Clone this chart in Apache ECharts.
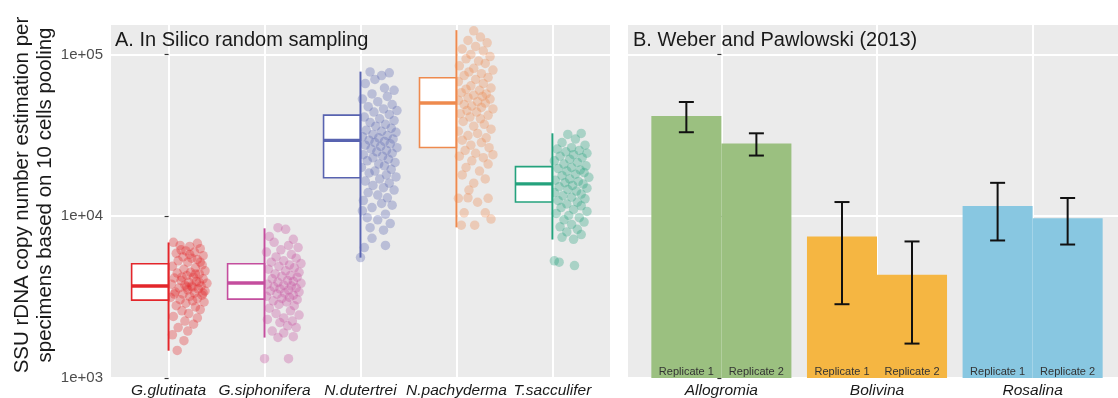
<!DOCTYPE html>
<html><head><meta charset="utf-8">
<script src="https://cdn.jsdelivr.net/npm/echarts@6/dist/echarts.min.js"></script>
<style>html,body{margin:0;padding:0;background:#fff}#c{width:1118px;height:398px}</style>
</head><body><div id="c"></div><script>
// ---------- DATA ----------
const speciesA = ['G.glutinata', 'G.siphonifera', 'N.dutertrei', 'N.pachyderma', 'T.sacculifer'];
const colorsA = ['#E3262B', '#C44E9E', '#5863B0', '#EE8A4E', '#24A27D'];
// [lower whisker, Q1, median, Q3, upper whisker]
const boxGlutinata = [1475, 3030, 3705, 5080, 6880];
const boxSiphonifera = [1778, 3072, 3868, 5080, 8414];
const boxDutertrei = [5546, 17280, 29430, 42170, 78300];
const boxPachyderma = [8531, 26610, 50120, 71800, 141250];
const boxSacculifer = [7175, 12235, 15850, 20240, 32540];
// [jitter offset, value]
const ptsGlutinata = [[0.05,6900],[0.30,6800],[0.12,6600],[0.22,6500],[0.33,6300],[0.18,6100],[0.27,6000],[0.08,5900],[0.36,5700],[0.15,5600],[0.24,5500],[0.30,5400],[0.10,5300],[0.20,5200],[0.35,5000],[0.04,4900],[0.28,4800],[0.16,4700],[0.38,4600],[0.23,4500],[0.09,4450],[0.32,4400],[0.19,4300],[0.26,4200],[0.06,4150],[0.36,4100],[0.13,4000],[0.29,3950],[0.21,3900],[0.40,3850],[0.03,3800],[0.17,3750],[0.34,3700],[0.25,3650],[0.11,3600],[0.31,3550],[0.20,3500],[0.38,3450],[0.07,3400],[0.27,3350],[0.15,3300],[0.35,3250],[0.22,3200],[0.02,3150],[0.30,3100],[0.12,3050],[0.25,3000],[0.37,2950],[0.18,2900],[0.08,2800],[0.28,2750],[0.33,2650],[0.14,2600],[0.21,2500],[0.05,2400],[0.30,2350],[0.17,2250],[0.26,2150],[0.10,2050],[0.20,1950],[0.04,1850],[0.16,1700],[0.09,1480],[0.24,3700],[0.32,3900],[0.14,4200],[0.36,3350],[0.19,3650],[0.28,4400],[0.06,3300],[0.22,5800],[0.13,6200],[0.33,5200]];
const ptsSiphonifera = [[0.14,8500],[0.22,8300],[0.05,7500],[0.30,7200],[0.10,6900],[0.25,6600],[0.35,6400],[0.17,6200],[0.02,6000],[0.28,5800],[0.12,5600],[0.33,5500],[0.20,5300],[0.07,5200],[0.38,5100],[0.26,5000],[0.15,4900],[0.31,4800],[0.04,4700],[0.22,4600],[0.36,4500],[0.11,4400],[0.27,4300],[0.18,4250],[0.34,4200],[0.08,4100],[0.24,4000],[0.30,3950],[0.14,3900],[0.38,3850],[0.03,3800],[0.20,3750],[0.28,3700],[0.10,3650],[0.33,3600],[0.16,3550],[0.25,3500],[0.06,3450],[0.36,3400],[0.21,3350],[0.13,3300],[0.30,3250],[0.02,3200],[0.26,3150],[0.18,3100],[0.34,3050],[0.09,3000],[0.23,2950],[0.15,2850],[0.31,2800],[0.05,2700],[0.27,2600],[0.12,2500],[0.36,2450],[0.20,2350],[0.03,2300],[0.29,2250],[0.16,2200],[0.24,2100],[0.33,2050],[0.08,1950],[0.20,1900],[0.30,1800],[0.14,1780],[0.00,1316],[0.25,1316]];
const ptsDutertrei = [[0.10,78000],[0.30,77000],[0.22,74000],[0.15,70000],[0.05,66000],[0.25,62000],[0.35,60000],[0.12,57000],[0.28,55000],[0.02,53000],[0.18,51000],[0.33,49000],[0.08,47500],[0.24,46000],[0.38,45000],[0.14,44000],[0.30,42500],[0.04,41000],[0.20,40000],[0.35,39000],[0.10,38000],[0.26,37000],[0.16,36000],[0.32,35000],[0.06,34000],[0.22,33500],[0.37,33000],[0.13,32000],[0.28,31500],[0.02,31000],[0.19,30500],[0.34,30000],[0.09,29500],[0.25,29000],[0.15,28500],[0.31,28000],[0.05,27500],[0.21,27000],[0.38,26500],[0.11,26000],[0.27,25500],[0.17,25000],[0.33,24500],[0.03,24000],[0.23,23500],[0.13,23000],[0.29,22500],[0.07,22000],[0.36,21500],[0.19,21000],[0.25,20500],[0.01,20000],[0.32,19500],[0.15,19000],[0.09,18500],[0.27,18000],[0.37,17500],[0.20,17000],[0.05,16500],[0.30,16000],[0.13,15500],[0.24,15000],[0.35,14500],[0.08,14000],[0.18,13500],[0.28,13000],[0.03,12500],[0.22,12000],[0.33,11700],[0.12,11300],[0.02,10800],[0.26,10300],[0.07,9800],[0.18,9500],[0.31,9000],[0.10,8500],[0.24,8200],[0.12,7300],[0.04,6400],[0.26,6600],[0.00,5550]];
const ptsPachyderma = [[0.18,140000],[0.25,128000],[0.12,122000],[0.32,118000],[0.20,112000],[0.06,108000],[0.28,105000],[0.15,100000],[0.35,97000],[0.10,94000],[0.23,91000],[0.30,88000],[0.03,85000],[0.18,82000],[0.38,80000],[0.13,78000],[0.26,76000],[0.08,74000],[0.33,72000],[0.20,70000],[0.02,68000],[0.28,66000],[0.15,64000],[0.36,62000],[0.10,61000],[0.24,60000],[0.05,58000],[0.31,57000],[0.18,56000],[0.27,55000],[0.12,54000],[0.35,53000],[0.02,52000],[0.22,51000],[0.30,50000],[0.08,49000],[0.16,48000],[0.26,47000],[0.38,46000],[0.11,45000],[0.21,44000],[0.04,43000],[0.33,42000],[0.14,41000],[0.25,40000],[0.07,38500],[0.29,37000],[0.18,36000],[0.36,34500],[0.02,33500],[0.22,32500],[0.12,31500],[0.31,30500],[0.06,29500],[0.26,28500],[0.15,27500],[0.34,26500],[0.09,25500],[0.20,24500],[0.38,24000],[0.03,23500],[0.28,23000],[0.16,22000],[0.33,21000],[0.10,20000],[0.24,19000],[0.06,18000],[0.30,17000],[0.18,16000],[0.13,14500],[0.02,12900],[0.12,13000],[0.33,12900],[0.22,12200],[0.08,10500],[0.30,10500],[0.36,9600],[0.05,8800],[0.19,8800]];
const ptsSacculifer = [[0.16,32000],[0.30,32500],[0.24,30000],[0.10,28500],[0.34,27500],[0.20,26500],[0.05,26000],[0.28,25500],[0.14,25000],[0.36,24500],[0.22,24000],[0.08,23500],[0.31,23000],[0.18,22500],[0.02,22000],[0.26,21500],[0.12,21000],[0.35,20500],[0.20,20000],[0.06,19700],[0.29,19300],[0.15,19000],[0.33,18600],[0.24,18200],[0.10,17800],[0.38,17400],[0.18,17000],[0.03,16700],[0.27,16400],[0.13,16100],[0.32,15800],[0.21,15500],[0.07,15200],[0.36,14900],[0.16,14600],[0.25,14300],[0.02,14000],[0.30,13700],[0.11,13400],[0.20,13100],[0.34,12800],[0.06,12500],[0.26,12200],[0.15,11900],[0.30,11600],[0.09,11300],[0.22,11000],[0.36,10700],[0.04,10400],[0.17,10100],[0.28,9800],[0.12,9500],[0.33,9200],[0.20,8900],[0.08,8600],[0.26,8300],[0.15,8000],[0.30,7700],[0.10,7400],[0.22,7200],[0.02,5300],[0.07,5200],[0.23,4950]];

const generaB = ['Allogromia', 'Bolivina', 'Rosalina'];
const colorsB = ['#9BC080', '#F5B642', '#88C7E1'];
const replicates = ['Replicate 1', 'Replicate 2'];
// [replicate 1, replicate 2] per genus
const barMean = [[41580, 28180], [7500, 4340], [11550, 9716]];
const errLow = [[33040, 23710], [2858, 1632], [7080, 6683]];
const errHigh = [[50820, 32540], [12235, 6982], [16080, 12960]];

const yTickValues = [1000, 10000, 100000];
const yTickLabels = ['1e+03', '1e+04', '1e+05'];
const yMin = 1000, yMax = 152000;
const titleA = 'A. In Silico random sampling';
const titleB = 'B. Weber and Pawlowski (2013)';
const yTitle = 'SSU rDNA copy number estimation per\nspecimens based on 10 cells pooling';

// ---------- CHART ----------
const boxes = [boxGlutinata, boxSiphonifera, boxDutertrei, boxPachyderma, boxSacculifer];
const pts = [ptsGlutinata, ptsSiphonifera, ptsDutertrei, ptsPachyderma, ptsSacculifer];
const FONT = 'Liberation Sans, Arial, sans-serif';
const BOX_W = 0.385, BAR_W = 0.45, CAP = 7.5;

function yLabel(v) {
  let best = 0;
  yTickValues.forEach((t, i) => { if (Math.abs(Math.log10(t) - Math.log10(v)) < 0.01) best = i; });
  return yTickLabels[best];
}

const chart = echarts.init(document.getElementById('c'), null, {renderer: 'canvas'});

const series = [];
pts.forEach((arr, i) => {
  series.push({
    type: 'scatter', xAxisIndex: 0, yAxisIndex: 0, silent: true,
    symbolSize: 9.5,
    itemStyle: {color: colorsA[i], opacity: 0.33},
    data: arr.map(p => [i + p[0], p[1]]), z: 2
  });
});
series.push({
  type: 'custom', xAxisIndex: 0, yAxisIndex: 0, silent: true, z: 3,
  encode: {x: 0, y: [1, 2, 3, 4, 5]},
  data: boxes.map((b, i) => [i].concat(b)),
  renderItem: function (params, api) {
    const x = api.value(0);
    const c = colorsA[params.dataIndex];
    const lo = api.coord([x, api.value(1)]);
    const q1 = api.coord([x, api.value(2)]);
    const md = api.coord([x, api.value(3)]);
    const q3 = api.coord([x, api.value(4)]);
    const hi = api.coord([x, api.value(5)]);
    const left = api.coord([x - BOX_W, api.value(3)])[0];
    const cx = lo[0];
    return {type: 'group', children: [
      {type: 'rect', shape: {x: left, y: q3[1], width: cx - left, height: q1[1] - q3[1]},
        style: {fill: '#fff', stroke: c, lineWidth: 1.6}},
      {type: 'line', shape: {x1: left, y1: md[1], x2: cx, y2: md[1]}, style: {stroke: c, lineWidth: 3.4}},
      {type: 'line', shape: {x1: cx, y1: hi[1], x2: cx, y2: lo[1]}, style: {stroke: c, lineWidth: 2}}
    ]};
  }
});
const barData = [];
generaB.forEach((g, gi) => replicates.forEach((r, ri) => barData.push([gi, ri, barMean[gi][ri], errLow[gi][ri], errHigh[gi][ri]])));
series.push({
  type: 'custom', xAxisIndex: 1, yAxisIndex: 1, silent: true, z: 2,
  encode: {x: 0, y: [2, 3, 4]},
  data: barData,
  renderItem: function (params, api) {
    const g = api.value(0), r = api.value(1);
    const x0 = g - BAR_W + r * BAR_W;
    const top = api.coord([x0, api.value(2)]);
    const bot = api.coord([x0 + BAR_W, yMin]);
    const cxv = api.coord([x0 + BAR_W / 2, yMin])[0];
    return {type: 'group', children: [
      {type: 'rect', shape: {x: top[0], y: top[1], width: bot[0] - top[0], height: bot[1] - top[1]},
        style: {fill: colorsB[g]}},
      {type: 'text', x: cxv, y: bot[1] - 6,
        style: {text: replicates[r], font: '11px ' + FONT, fill: '#333', align: 'center', verticalAlign: 'middle'}}
    ]};
  }
});
series.push({
  type: 'custom', xAxisIndex: 1, yAxisIndex: 1, silent: true, z: 3,
  encode: {x: 0, y: [2, 3, 4]},
  data: barData,
  renderItem: function (params, api) {
    const g = api.value(0), r = api.value(1);
    const xc = g - BAR_W / 2 + r * BAR_W;
    const lo = api.coord([xc, api.value(3)]);
    const hi = api.coord([xc, api.value(4)]);
    const st = {stroke: '#111', lineWidth: 2};
    return {type: 'group', children: [
      {type: 'line', shape: {x1: lo[0], y1: lo[1], x2: hi[0], y2: hi[1]}, style: st},
      {type: 'line', shape: {x1: lo[0] - CAP, y1: lo[1], x2: lo[0] + CAP, y2: lo[1]}, style: st},
      {type: 'line', shape: {x1: hi[0] - CAP, y1: hi[1], x2: hi[0] + CAP, y2: hi[1]}, style: st}
    ]};
  }
});

function xAxisDef(gi, n, max, names) {
  const vals = names.map((_, i) => i);
  return {
    gridIndex: gi, type: 'value', min: -0.6, max: max,
    axisLine: {show: false},
    axisTick: {show: false, customValues: vals},
    splitLine: {show: true, lineStyle: {color: '#fff', width: 2}},
    axisLabel: {customValues: vals, margin: 5, fontFamily: FONT, fontSize: 15.5, fontStyle: 'italic', color: '#1a1a1a',
      formatter: v => names[Math.round(v)]}
  };
}
function yAxisDef(gi, showLabel) {
  return {
    gridIndex: gi, type: 'log', logBase: 10, min: yMin, max: yMax,
    axisLine: {show: false},
    axisTick: {show: true, length: 4, customValues: yTickValues, lineStyle: {color: '#333', width: 1.2}},
    splitLine: {show: true, lineStyle: {color: '#fff', width: 2}},
    minorSplitLine: {show: false},
    axisLabel: {show: showLabel, customValues: yTickValues, margin: 8, fontFamily: FONT, fontSize: 15, color: '#4d4d4d',
      formatter: yLabel}
  };
}

chart.setOption({
  animation: false,
  backgroundColor: '#fff',
  grid: [
    {left: 111, top: 25, width: 499, height: 353, show: true, backgroundColor: '#EBEBEB', borderWidth: 0, containLabel: false, outerBoundsMode: 'none'},
    {left: 628, top: 25, width: 498, height: 353, show: true, backgroundColor: '#EBEBEB', borderWidth: 0, containLabel: false, outerBoundsMode: 'none'}
  ],
  xAxis: [xAxisDef(0, 5, 4.6, speciesA), xAxisDef(1, 3, 2.6, generaB)],
  yAxis: [yAxisDef(0, true), yAxisDef(1, false)],
  graphic: [
    {type: 'text', x: 115, y: 40, z: 10, silent: true,
      style: {text: titleA, font: '20px ' + FONT, fill: '#1a1a1a', verticalAlign: 'middle'}},
    {type: 'text', x: 633, y: 40, z: 10, silent: true,
      style: {text: titleB, font: '20px ' + FONT, fill: '#1a1a1a', verticalAlign: 'middle'}},
    {type: 'text', x: 34, y: 195, rotation: Math.PI / 2, silent: true,
      style: {text: yTitle, font: '20.5px ' + FONT, fill: '#1a1a1a', align: 'center', verticalAlign: 'middle', lineHeight: 23}}
  ],
  series: series
});
</script></body></html>
